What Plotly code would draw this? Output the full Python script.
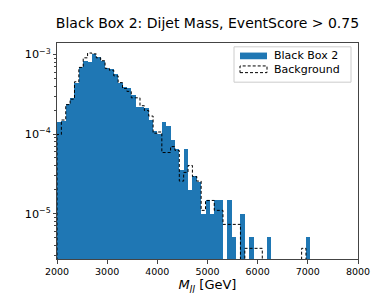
import numpy as np
import plotly.graph_objects as go

# ---- data ----
bin_lo = 2000.0
bin_hi = 7050.0
n_bins = 58

signal_counts = [28, 29, 48, 57, 88, 137, 167, 162, 202, 186, 167, 134, 130, 113, 88, 77,
                 75, 62, 44, 44, 43, 30, 22, 20, 28, 25, 17, 13, 7, 13, 4, 6, 5, 2, 3, 2,
                 3, 3, 0, 3, 1, 0, 2, 0, 1, 0, 0, 0, 1, 0, 0, 0, 0, 0, 0, 0, 0, 1]
background_counts = [27, 41, 64, 75, 124, 188, 248, 285, 278, 248, 228, 183, 173, 147, 121, 102,
                     94, 78, 78, 62, 54, 46, 28, 29, 16, 16, 19, 17, 7, 9, 11, 8, 7, 3, 4, 4,
                     3, 3, 2, 2, 2, 2, 0, 1, 1, 1, 1, 0, 0, 0, 0, 0, 0, 0, 0, 0, 1, 0]

x_ticks = [2000, 3000, 4000, 5000, 6000, 7000, 8000]
title_text = "Black Box 2: Dijet Mass, EventScore > 0.75"
signal_name = "Black Box 2"
background_name = "Background"

# ---- derived ----
edges = np.linspace(bin_lo, bin_hi, n_bins + 1)
width = edges[1] - edges[0]
centers = 0.5 * (edges[:-1] + edges[1:])
sig = np.array(signal_counts, float)
bkg = np.array(background_counts, float)
sig_d = sig / (sig.sum() * width)
bkg_d = bkg / (bkg.sum() * width)
sig_y = [v if v > 0 else None for v in sig_d]

floor = 1e-12
bx = [edges[0]]
by = [floor]
for i in range(n_bins):
    v = bkg_d[i] if bkg_d[i] > 0 else floor
    bx += [edges[i], edges[i + 1]]
    by += [v, v]
bx.append(edges[-1])
by.append(floor)

W, H = 390, 293
L, R, T, B = 49, 350, 35, 261
def px(x):
    return (x - L) / (R - L)
def py(y):
    return (B - y) / (B - T)

blue = "#1f77b4"
fig = go.Figure()
fig.add_trace(go.Bar(x=centers, y=sig_y, width=width, marker=dict(color=blue, line=dict(width=0)),
                     name=signal_name, showlegend=False))
fig.add_trace(go.Scatter(x=bx, y=by, mode="lines", line=dict(color="black", width=1, dash="3px,2px"),
                         name=background_name, showlegend=False))

font = "DejaVu Sans, Arial, sans-serif"
axcol = "#444"
fig.update_layout(
    width=W, height=H,
    margin=dict(l=L, r=W - R, t=T, b=H - B),
    paper_bgcolor="white", plot_bgcolor="white",
    bargap=0,
    font=dict(family=font, color="black"),
    title=dict(text=title_text, x=0.5, xref="paper", y=1 - 15 / H, yref="container",
               xanchor="center", yanchor="middle", font=dict(size=14, family=font, color="black")),
    xaxis=dict(range=[2000, 8000], tickvals=x_ticks, ticks="outside", ticklen=3.5, tickwidth=1,
               tickcolor=axcol, showline=True, linecolor=axcol, linewidth=1, mirror=True,
               showgrid=False, zeroline=False, tickfont=dict(size=9.5),
               title=dict(text="<i>M</i><sub><i>JJ</i></sub> [GeV]", font=dict(size=13), standoff=3)),
    yaxis=dict(type="log", range=[-5.571, -2.856], dtick=1, exponentformat="power",
               ticks="outside", ticklen=3.5, tickwidth=1, tickcolor=axcol, showline=True,
               linecolor=axcol, linewidth=1, mirror=True, showgrid=False, zeroline=False,
               tickfont=dict(size=9),
               minor=dict(ticks="outside", ticklen=2, tickcolor=axcol, dtick="D1", showgrid=False)),
)

# legend drawn manually (patch styles like the reference)
shapes = [
    dict(type="rect", xref="paper", yref="paper", x0=px(226), x1=px(343), y0=py(76), y1=py(39),
         line=dict(color="#cccccc", width=1), fillcolor="rgba(255,255,255,0.8)", layer="above"),
    dict(type="rect", xref="paper", yref="paper", x0=px(232), x1=px(259), y0=py(52), y1=py(45),
         line=dict(width=0), fillcolor=blue, layer="above"),
    dict(type="rect", xref="paper", yref="paper", x0=px(232), x1=px(259), y0=py(66), y1=py(59),
         line=dict(color="black", width=1, dash="3px,2px"), fillcolor="rgba(0,0,0,0)", layer="above"),
]
fig.update_layout(shapes=shapes)
fig.add_annotation(x=px(264), y=py(48.5), xref="paper", yref="paper", text=signal_name,
                   showarrow=False, xanchor="left", yanchor="middle", font=dict(size=11))
fig.add_annotation(x=px(264), y=py(62.5), xref="paper", yref="paper", text=background_name,
                   showarrow=False, xanchor="left", yanchor="middle", font=dict(size=11))

fig.write_html("out.html")
